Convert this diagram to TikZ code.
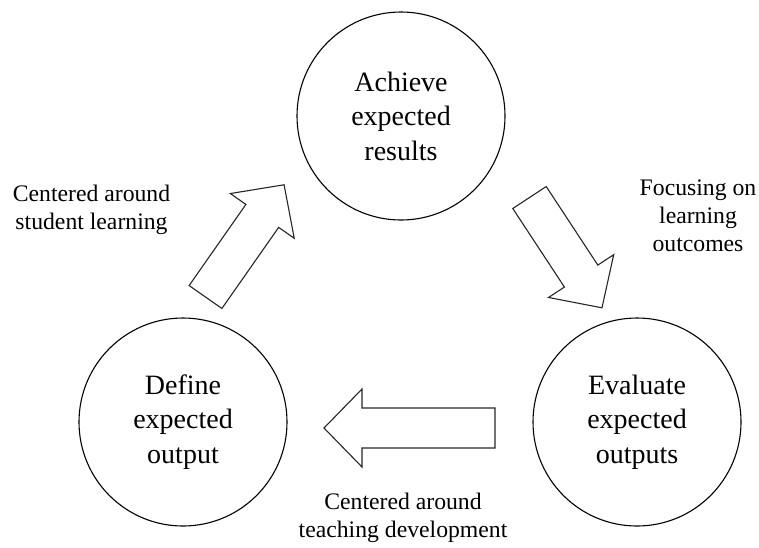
\documentclass[tikz,border=0pt]{standalone}
\usepackage{fontspec}
\setmainfont{Liberation Serif}
\usepackage{amsmath}

\tikzset{
  stage/.style={circle, draw, line width=1.1pt, minimum size=208pt,
    inner sep=0pt, align=center, font=\fontsize{28}{34.5}\selectfont},
  remark/.style={align=center, inner sep=0pt, anchor=north,
    font=\fontsize{23.7}{28}\selectfont},
  blockarrow/.style={draw=black!85, line width=1.1pt, line join=miter}
}
\newcommand{\arrowbody}[1]{(0,-20) -- (#1-38,-20) -- (#1-38,-39) -- (#1,0)
  -- (#1-38,39) -- (#1-38,20) -- (0,20) -- cycle}

\begin{document}
\begin{tikzpicture}[x=1pt, y=1pt]
    \useasboundingbox (0,0) rectangle (759,-547);

    \node[stage] (achieve) at (401,-116) {Achieve\\expected\\results};
    \node[stage] (define) at (183,-422) {Define\\expected\\output};
    \node[stage] (evaluate) at (637,-422) {Evaluate\\expected\\outputs};

    \draw[blockarrow, shift={(205.5,-297)}, rotate=55] \arrowbody{137};
    \draw[blockarrow, shift={(529.5,-197.5)}, rotate=-56.7] \arrowbody{132};
    \draw[blockarrow, shift={(495,-428)}, rotate=180] \arrowbody{171};

    \node[remark] (student) at (91.5,-185) {Centered around\\student
      learning};
    \node[remark] (focus) at (698,-180) {Focusing on\\learning\\outcomes};
    \node[remark] (teaching) at (403,-493) {Centered around\\teaching
      development};
  \end{tikzpicture}
\end{document}
